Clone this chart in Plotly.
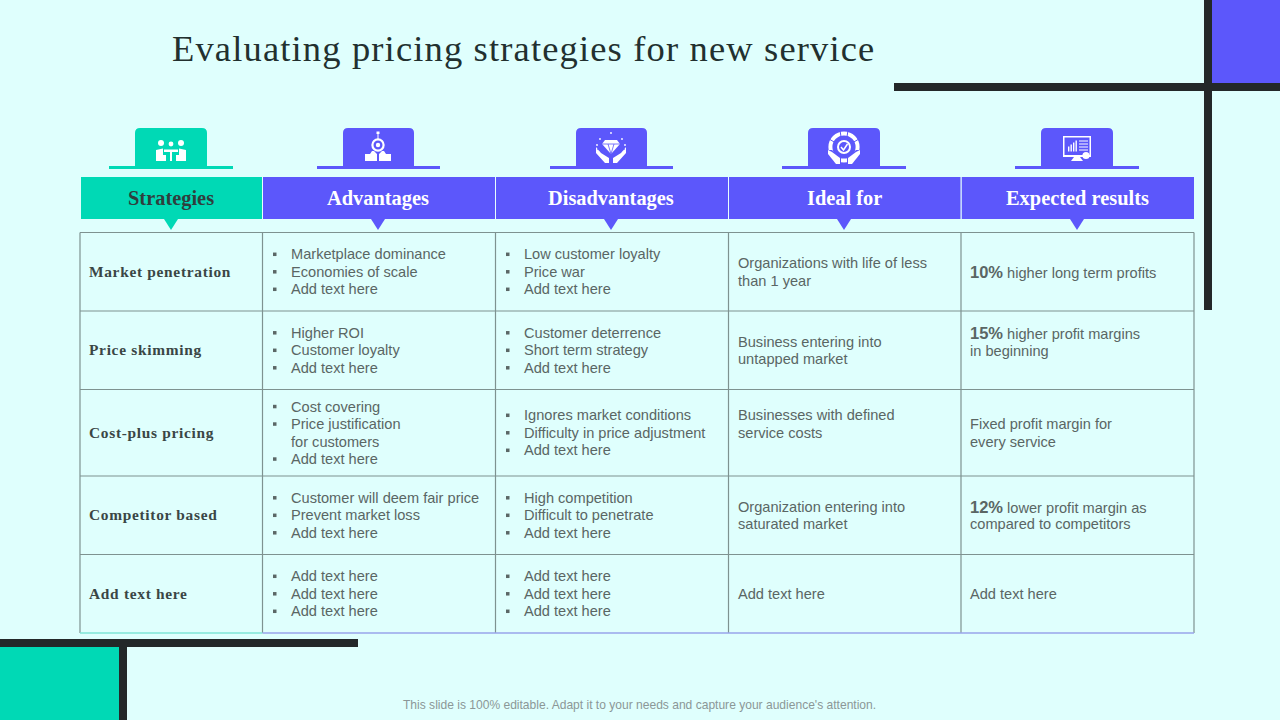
import plotly.graph_objects as go

# ---------- content ----------
title = "Evaluating pricing strategies for new service"
footer = "This slide is 100% editable. Adapt it to your needs and capture your audience's attention."
headers = ["Strategies", "Advantages", "Disadvantages", "Ideal for", "Expected results"]
strategies = ["Market penetration", "Price skimming", "Cost-plus pricing", "Competitor based", "Add text here"]
advantages = [
    ["Marketplace dominance", "Economies of scale", "Add text here"],
    ["Higher ROI", "Customer loyalty", "Add text here"],
    ["Cost covering", "Price justification", "~for customers", "Add text here"],
    ["Customer will deem fair price", "Prevent market loss", "Add text here"],
    ["Add text here", "Add text here", "Add text here"],
]
disadvantages = [
    ["Low customer loyalty", "Price war", "Add text here"],
    ["Customer deterrence", "Short term strategy", "Add text here"],
    ["Ignores market conditions", "Difficulty in price adjustment", "Add text here"],
    ["High competition", "Difficult to penetrate", "Add text here"],
    ["Add text here", "Add text here", "Add text here"],
]
ideal_for = [
    ["Organizations with life of less", "than 1 year"],
    ["Business entering into", "untapped market"],
    ["Businesses with defined", "service costs"],
    ["Organization entering into", "saturated market"],
    ["Add text here"],
]
results = [
    [("10%", " higher long term profits")],
    [("15%", " higher profit margins"), ("", "in beginning")],
    [("", "Fixed profit margin for"), ("", "every service")],
    [("12%", " lower profit margin as"), ("", "compared to competitors")],
    [("", "Add text here")],
]

# ---------- layout & style ----------
BG, TEAL, VIOLET, DARK = "#DFFFFD", "#00D9B5", "#5C57FB", "#232829"
TXT, HEAD_DARK, GRID = "#5A6664", "#2F3F3E", "#7E9290"
SERIF, SANS = "Liberation Serif", "Liberation Sans"
col_edges = [80, 262.5, 495.5, 728.5, 961, 1194]
row_edges = [232.5, 311, 389.5, 476, 554.5, 633]
centers = [171, 378, 611, 844, 1077]
LINE = 17.5
ideal_shift = [0, 0, -9, 0, 0]
results_shift = [0, -8.5, 0, 0, 0]

shapes, ann = [], []

def rect(x0, y0, x1, y1, color):
    shapes.append(dict(type="rect", x0=x0, y0=y0, x1=x1, y1=y1, fillcolor=color,
                       line=dict(width=0), layer="above"))

def line(x0, y0, x1, y1, color, w=1.2):
    shapes.append(dict(type="line", x0=x0, y0=y0, x1=x1, y1=y1,
                       line=dict(color=color, width=w), layer="above"))

def path(d, fill=None, stroke=None, w=1.2):
    shapes.append(dict(type="path", path=d, fillcolor=fill or "rgba(0,0,0,0)",
                       line=dict(color=stroke or "rgba(0,0,0,0)", width=w if stroke else 0),
                       layer="above"))

def poly(pts, fill):
    path("M" + " L".join(f"{x},{y}" for x, y in pts) + " Z", fill=fill)

def circle(cx, cy, r, fill=None, stroke=None, w=1.2):
    shapes.append(dict(type="circle", x0=cx - r, y0=cy - r, x1=cx + r, y1=cy + r,
                       fillcolor=fill or "rgba(0,0,0,0)",
                       line=dict(color=stroke or "rgba(0,0,0,0)", width=w if stroke else 0),
                       layer="above"))

def text(x, y, s, size, color, family=SANS, anchor="left"):
    ann.append(dict(x=x, y=y, text=s, showarrow=False, xanchor=anchor, yanchor="middle",
                    align=anchor, borderpad=0, font=dict(size=size, color=color, family=family)))

def spaced(s, px):
    return f'<span style="letter-spacing:{px}px">{s}</span>'

# decorative corners
rect(1212, 0, 1280, 83, VIOLET)
rect(894, 83, 1280, 91, DARK)
rect(1204, 0, 1212, 310, DARK)
rect(0, 647, 119, 720, TEAL)
rect(0, 639, 358, 647, DARK)
rect(119, 647, 127, 720, DARK)

# title & footer
text(171, 48, spaced(title, 1.15), 36.5, "#22302F", SERIF)
text(639, 705, footer, 12.05, "#8B9797", SANS, "center")

# header tabs, bars, pointers
for i, (c, h) in enumerate(zip(centers, headers)):
    col = TEAL if i == 0 else VIOLET
    x0, x1 = c - (35 if i in (1, 2) else 36), c + 36
    path(f"M{x0},167 L{x0},133 Q{x0},128 {x0+5},128 L{x1-5},128 Q{x1},128 {x1},133 L{x1},167 Z", fill=col)
    rect(c - 61 if i in (1, 2) else c - 62, 166, c + 62, 169, col)
    rect(max(col_edges[i], 81) + 0.5 * (i > 0), 177, col_edges[i + 1], 219, col)
    poly([(c - 7, 219), (c + 7, 219), (c, 230)], col)
    text(c, 198, f"<b>{h}</b>", 20.4, HEAD_DARK if i == 0 else "#FFFFFF", SERIF, "center")
for x in col_edges[1:-1]:
    line(x, 177, x, 219, "#E8FFFD", 1)

W = "#FFFFFF"
# icon 1: meeting around a table
c = centers[0]
for dx, r in ((-10, 3), (0, 2.4), (10, 3)):
    circle(c + dx, 143 + (1 if dx == 0 else 0), r, fill=W)
rect(c - 7, 149.5, c + 7, 152, W)
rect(c - 1, 152, c + 1, 161, W)
for s in (-1, 1):
    poly([(c + s * 15, 161), (c + s * 15, 150), (c + s * 8, 148.5), (c + s * 8, 155),
          (c + s * 5, 155), (c + s * 5, 161)], W)
# icon 2: two hands holding a gear
c = centers[1]
circle(c, 145, 5.6, stroke=W, w=2.2)
circle(c, 145, 2.2, fill=W)
rect(c - 0.5, 134, c + 0.5, 139, W)
rect(c - 1.5, 131.5, c + 1.5, 134, W)
for s in (-1, 1):
    poly([(c + s * 1, 161), (c + s * 1, 154), (c + s * 4, 151), (c + s * 6, 151), (c + s * 8, 154),
          (c + s * 13, 154), (c + s * 13, 161)], W)
# icon 3: diamond above open hands
c = centers[2]
poly([(c - 6, 140), (c + 6, 140), (c + 9, 144), (c, 154), (c - 9, 144)], W)
line(c - 9, 144, c + 9, 144, VIOLET, 0.8)
line(c - 3, 144, c, 154, VIOLET, 0.8)
line(c + 3, 144, c, 154, VIOLET, 0.8)
for dx, dy in ((0, 133), (-11, 139), (11, 139), (-14, 145), (14, 145)):
    circle(c + dx, dy, 0.9, fill=W)
for s in (-1, 1):
    path(f"M{c+s*15},147 L{c+s*15},153 L{c+s*6},163 L{c+s*2},163 L{c+s*2},158 L{c+s*10},153 Z", fill=W)
    path(f"M{c+s*3},154 L{c+s*14},149", stroke=VIOLET, w=0.8)
# icon 4: gauge with check, held by hands
c = centers[3]
circle(c, 147, 13.6, stroke=W, w=4)
for a, b in (((c - 15, 139), (c - 8, 143)), ((c + 15, 139), (c + 8, 143)), ((c - 4, 130), (c - 3, 137)), ((c + 4, 130), (c + 3, 137))):
    line(a[0], a[1], b[0], b[1], VIOLET, 1)
circle(c, 147, 6, stroke=W, w=2)
path(f"M{c-3},147 L{c-0.5},150 L{c+3.5},144", stroke=W, w=1.5)
for s in (-1, 1):
    poly([(c + s * 17, 150), (c + s * 17, 154), (c + s * 7, 165), (c + s * 3, 165), (c + s * 3, 158), (c + s * 12, 150)], VIOLET)
    poly([(c + s * 16, 150), (c + s * 16, 154), (c + s * 8, 164), (c + s * 4, 164), (c + s * 4, 158), (c + s * 12, 152)], W)
# icon 5: monitor with charts
c = centers[4]
rect(c - 14, 136, c + 14, 157, W)
rect(c - 12.5, 137.5, c + 12.5, 155, VIOLET)
for dx, h in ((-9, 5), (-6.5, 7), (-4, 9), (-1.5, 11)):
    rect(c + dx, 151.5 - h, c + dx + 1.4, 151.5, W)
for y in (141, 144, 147, 150):
    line(c + 2, y, c + 11, y, W, 1)
poly([(c - 3, 157), (c + 3, 157), (c + 6, 161), (c - 6, 161)], W)
circle(c + 9, 155.5, 3.6, fill=W)

# table grid
for x in col_edges:
    line(x, row_edges[0], x, row_edges[-1], GRID)
for y in row_edges[:-1]:
    line(col_edges[0], y, col_edges[-1], y, GRID)
line(col_edges[0], row_edges[-1], col_edges[1], row_edges[-1], "#7FE6D6", 1.5)
line(col_edges[1], row_edges[-1], col_edges[-1], row_edges[-1], "#98A5EA", 1.5)

# cell text
for r in range(5):
    cy = (row_edges[r] + row_edges[r + 1]) / 2
    text(88, cy - 0.3, spaced(f"<b>{strategies[r]}</b>", 0.7), 15.4, "#3A4645", SERIF)
    for col, cells in ((1, advantages), (2, disadvantages)):
        lines = cells[r]
        top = cy - LINE * (len(lines) - 1) / 2
        for k, s in enumerate(lines):
            y = top + k * LINE
            if s.startswith("~"):
                s = s[1:]
            else:
                rect(col_edges[col] + 10.5, y - 1.7, col_edges[col] + 14, y + 1.8, "#5B6766")
            text(col_edges[col] + 27, y, s, 14.6, TXT)
    lines = ideal_for[r]
    top = cy - LINE * (len(lines) - 1) / 2 + ideal_shift[r]
    for k, s in enumerate(lines):
        text(737, top + k * LINE, s, 14.6, TXT)
    lines = results[r]
    top = cy - LINE * (len(lines) - 1) / 2 + results_shift[r]
    for k, (big, s) in enumerate(lines):
        label = (f'<span style="font-size:16.5px;font-weight:bold">{big}</span>' if big else "") + s
        text(969, top + k * LINE, label, 14.6, TXT)

fig = go.Figure()
fig.update_layout(
    width=1280, height=720, margin=dict(l=0, r=0, t=0, b=0), autosize=False,
    paper_bgcolor=BG, plot_bgcolor=BG, showlegend=False,
    xaxis=dict(range=[0, 1280], visible=False, fixedrange=True),
    yaxis=dict(range=[720, 0], visible=False, fixedrange=True),
    shapes=shapes, annotations=ann,
)
fig.write_html("out.html", config=dict(displayModeBar=False),
               post_script="document.body.style.margin='0';document.body.style.overflow='hidden';"
                           f"document.body.style.background='{BG}';")
